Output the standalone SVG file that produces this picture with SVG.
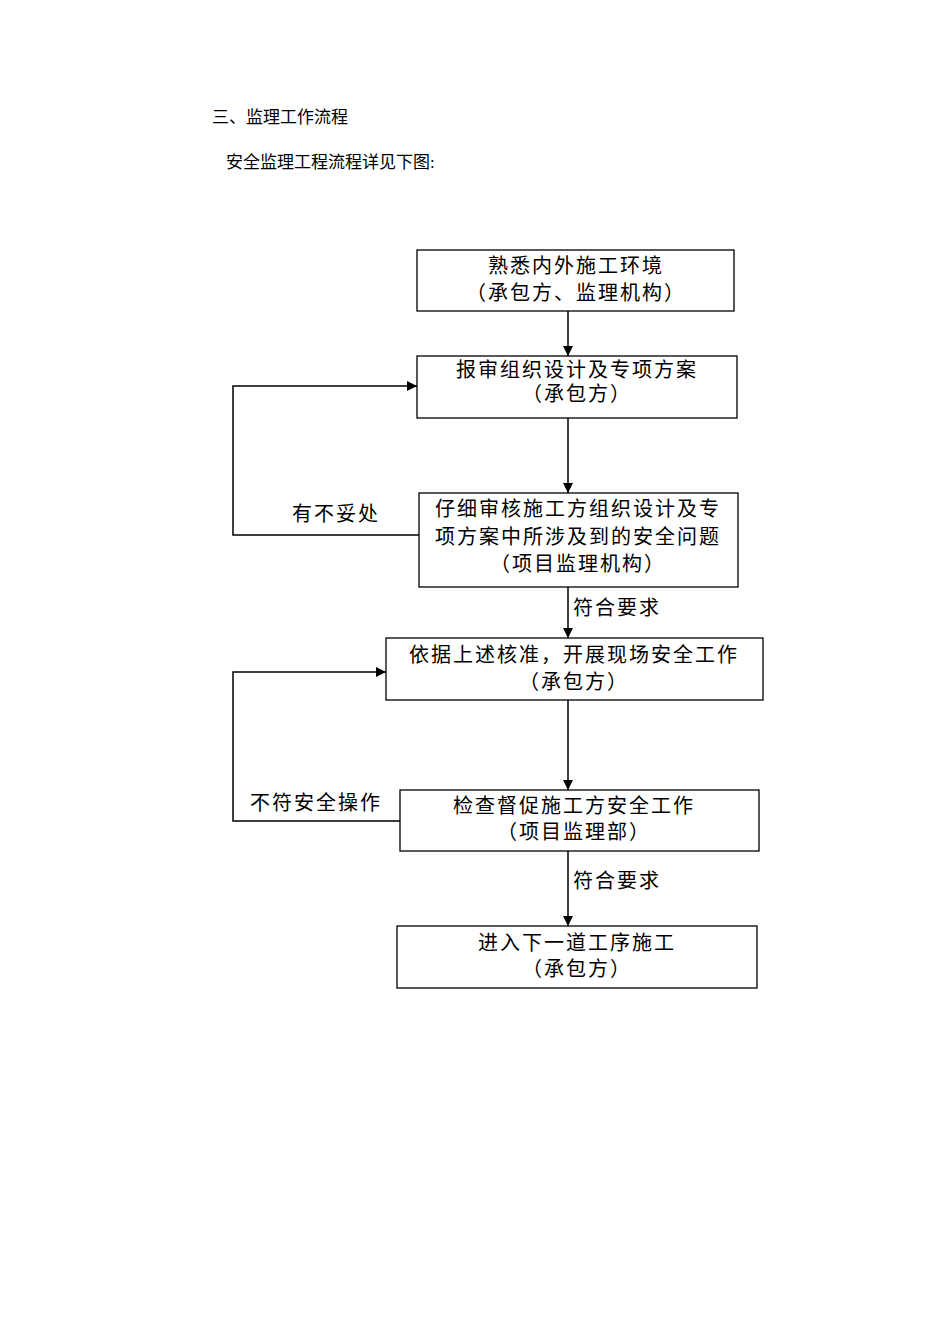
<svg xmlns="http://www.w3.org/2000/svg" width="950" height="1344" viewBox="0 0 950 1344">
<style>
text{font-family:"Liberation Serif","Noto Sans CJK SC",serif;fill:#000}
.t{font-size:20px;text-anchor:middle;letter-spacing:2px}
.l{font-size:20px;letter-spacing:2px}
.h{font-size:17px}
rect{fill:#fff;stroke:#000;stroke-width:1.3}
.c{fill:none;stroke:#000;stroke-width:1.5}
</style>
<defs><marker id="a" viewBox="0 0 10 10" refX="10" refY="5" markerWidth="7" markerHeight="7" orient="auto"><path d="M0,0L10,5L0,10z" fill="#000"/></marker></defs>
<text class="h" x="212" y="123">三、监理工作流程</text>
<text class="h" x="226" y="168">安全监理工程流程详见下图:</text>
<g id="connectors">
<path class="c" d="M568,311V356" marker-end="url(#a)"/>
<path class="c" d="M568,418V493" marker-end="url(#a)"/>
<path class="c" d="M568,587V638" marker-end="url(#a)"/>
<path class="c" d="M568,700V790" marker-end="url(#a)"/>
<path class="c" d="M568,851V926" marker-end="url(#a)"/>
<path class="c" d="M419,535H233V386H417" marker-end="url(#a)"/>
<path class="c" d="M400,821H233V672H386" marker-end="url(#a)"/>
<text class="l" x="573" y="615">符合要求</text>
<text class="l" x="573" y="888">符合要求</text>
<text class="l" x="292" y="521">有不妥处</text>
<text class="l" x="250" y="810">不符安全操作</text>
</g>
<g id="n1"><rect x="417" y="250" width="317" height="61"/><text class="t" x="576" y="273">熟悉内外施工环境</text><text class="t" x="576" y="300">（承包方、监理机构）</text></g>
<g id="n2"><rect x="417" y="356" width="320" height="62"/><text class="t" x="577" y="377">报审组织设计及专项方案</text><text class="t" x="577" y="401">（承包方）</text></g>
<g id="n3"><rect x="419" y="493" width="319" height="94"/><text class="t" x="578" y="516">仔细审核施工方组织设计及专</text><text class="t" x="578" y="544">项方案中所涉及到的安全问题</text><text class="t" x="578" y="571">（项目监理机构）</text></g>
<g id="n4"><rect x="386" y="638" width="377" height="62"/><text class="t" x="574" y="662">依据上述核准，开展现场安全工作</text><text class="t" x="574" y="689">（承包方）</text></g>
<g id="n5"><rect x="400" y="790" width="359" height="61"/><text class="t" x="574" y="813">检查督促施工方安全工作</text><text class="t" x="574" y="839">（项目监理部）</text></g>
<g id="n6"><rect x="397" y="926" width="360" height="62"/><text class="t" x="577" y="950">进入下一道工序施工</text><text class="t" x="577" y="976">（承包方）</text></g>
</svg>
